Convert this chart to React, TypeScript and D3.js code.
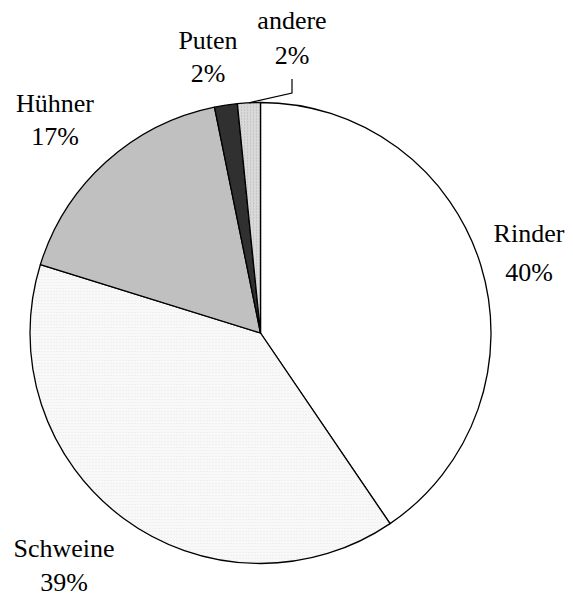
import React from "react";
import * as d3 from "d3";

// Meat production share by animal type
const categories = ["Rinder", "Schweine", "Hühner", "Puten", "andere"];
const values = [40.5, 39.3, 17.0, 1.6, 1.6];
const percentLabels = ["40%", "39%", "17%", "2%", "2%"];

const WIDTH = 573;
const HEIGHT = 599;
const CX = 260.5;
const CY = 333;
const R = 230.5;
const FONT = "Liberation Serif";

const fills = ["#ffffff", "url(#dots)", "#c0c0c0", "#303030", "url(#grid)"];

// label positions: [x center, baseline of name, baseline of percent]
const labelPos: [number, number, number][] = [
  [529, 242, 281],
  [64, 557, 591],
  [55, 112, 145],
  [208, 49, 82],
  [292, 29, 64],
];

export default function App() {
  const pie = d3
    .pie<number>()
    .sort(null)
    .value((d) => d)
    .startAngle(0)
    .endAngle(2 * Math.PI);
  const arcs = pie(values);
  const arcGen = d3.arc<d3.PieArcDatum<number>>().innerRadius(0).outerRadius(R);

  // leader line for the last (small) slice
  const last = arcs[arcs.length - 1];
  const mid = (last.startAngle + last.endAngle) / 2;
  const lx = CX + R * Math.sin(mid);
  const ly = CY - R * Math.cos(mid);
  const leader = d3.line()([
    [lx, ly],
    [labelPos[4][0], 93],
    [labelPos[4][0], 79],
  ]);

  return (
    <svg
      width={WIDTH}
      height={HEIGHT}
      style={{ position: "absolute", left: 0, top: 0, background: "#fff" }}
    >
      <defs>
        <pattern id="dots" width="3" height="3" patternUnits="userSpaceOnUse">
          <rect width="3" height="3" fill="#fbfbfb" />
          <rect x="0" y="0" width="1" height="1" fill="#e2e2e2" />
          <rect x="1.5" y="1.5" width="1" height="1" fill="#ececec" />
        </pattern>
        <pattern id="grid" width="3" height="3" patternUnits="userSpaceOnUse">
          <rect width="3" height="3" fill="#c6c6c6" />
          <rect x="0" y="0" width="1" height="3" fill="#ececec" />
          <rect x="0" y="0" width="3" height="1" fill="#d8d8d8" />
        </pattern>
      </defs>
      <g transform={`translate(${CX},${CY})`}>
        {arcs.map((a, i) => (
          <path
            key={categories[i]}
            d={arcGen(a) || ""}
            fill={fills[i]}
            stroke="#000"
            strokeWidth={1.3}
            strokeLinejoin="round"
          />
        ))}
      </g>
      <path d={leader || ""} fill="none" stroke="#000" strokeWidth={1.2} />
      {categories.map((c, i) => (
        <text
          key={c}
          x={labelPos[i][0]}
          textAnchor="middle"
          style={{ fontFamily: FONT, fontSize: "26px" }}
          fill="#000"
        >
          <tspan x={labelPos[i][0]} y={labelPos[i][1]}>
            {c}
          </tspan>
          <tspan x={labelPos[i][0]} y={labelPos[i][2]}>
            {percentLabels[i]}
          </tspan>
        </text>
      ))}
    </svg>
  );
}
